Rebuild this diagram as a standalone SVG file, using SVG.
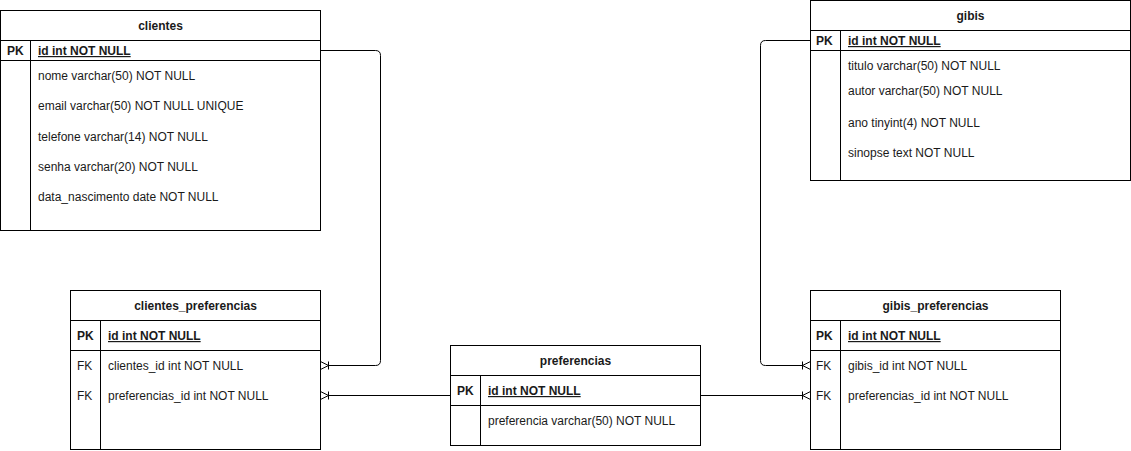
<svg xmlns="http://www.w3.org/2000/svg" width="1131" height="451" viewBox="0 0 1131 451">
<style>
.box{fill:#fff;stroke:#000;stroke-width:1}
.ln{fill:none;stroke:#000;stroke-width:1}
text{font-family:"Liberation Sans",Arial,Helvetica,sans-serif;font-size:12px;fill:#1a1a1a}
.t{font-weight:bold;text-anchor:middle}
.pk{font-weight:bold;text-decoration:underline}
.k{font-weight:bold}
</style>
<defs>
<marker id="crow" markerUnits="userSpaceOnUse" markerWidth="14" markerHeight="14" refX="0" refY="7" orient="auto" viewBox="0 0 14 14">
<path d="M0,3 L8,7 L0,11 M0,7 L8,7 M8,3 L8,11" fill="none" stroke="#000" stroke-width="1"/>
</marker>
</defs>
<rect width="1131" height="451" fill="#fff"/>
<g id="connectors">
<path class="ln" d="M320.5,50.5 H375.5 Q380.5,50.5 380.5,55.5 V360.5 Q380.5,365.5 375.5,365.5 H328.5"/>
<path class="ln" d="M450.5,395.5 H328.5"/>
<path class="ln" d="M700.5,395.5 H802.5"/>
<path class="ln" d="M810.5,40.5 H765.5 Q760.5,40.5 760.5,45.5 V360.5 Q760.5,365.5 765.5,365.5 H802.5"/>
<path class="ln" d="M320.5,361.5 L328.5,365.5 L320.5,369.5 M328.5,361.5 V369.5"/>
<path class="ln" d="M320.5,391.5 L328.5,395.5 L320.5,399.5 M328.5,391.5 V399.5"/>
<path class="ln" d="M810.5,361.5 L802.5,365.5 L810.5,369.5 M802.5,361.5 V369.5"/>
<path class="ln" d="M810.5,391.5 L802.5,395.5 L810.5,399.5 M802.5,391.5 V399.5"/>
</g>
<g id="clientes">
<rect class="box" x="0.5" y="10.5" width="320" height="220"/>
<path class="ln" d="M0.5,40.5 H320.5 M0.5,60.5 H320.5 M30.5,40.5 V230.5"/>
<text class="t" x="160.5" y="30">clientes</text>
<text class="k" x="7" y="55">PK</text>
<text class="pk" x="38" y="55">id int NOT NULL</text>
<text x="38" y="80">nome varchar(50) NOT NULL</text>
<text x="38" y="110">email varchar(50) NOT NULL UNIQUE</text>
<text x="38" y="141">telefone varchar(14) NOT NULL</text>
<text x="38" y="171">senha varchar(20) NOT NULL</text>
<text x="38" y="201">data_nascimento date NOT NULL</text>
</g>
<g id="clientes_preferencias">
<rect class="box" x="70.5" y="290.5" width="250" height="159"/>
<path class="ln" d="M70.5,320.5 H320.5 M70.5,350.5 H320.5 M100.5,320.5 V449.5"/>
<text class="t" x="195.5" y="310">clientes_preferencias</text>
<text class="k" x="77" y="340">PK</text>
<text class="pk" x="108" y="340">id int NOT NULL</text>
<text x="77" y="370">FK</text>
<text x="108" y="370">clientes_id int NOT NULL</text>
<text x="77" y="400">FK</text>
<text x="108" y="400">preferencias_id int NOT NULL</text>
</g>
<g id="preferencias">
<rect class="box" x="450.5" y="345.5" width="250" height="100"/>
<path class="ln" d="M450.5,375.5 H700.5 M450.5,405.5 H700.5 M480.5,375.5 V445.5"/>
<text class="t" x="575.5" y="365">preferencias</text>
<text class="k" x="457" y="395">PK</text>
<text class="pk" x="488" y="395">id int NOT NULL</text>
<text x="488" y="425">preferencia varchar(50) NOT NULL</text>
</g>
<g id="gibis">
<rect class="box" x="810.5" y="0.5" width="320" height="180"/>
<path class="ln" d="M810.5,30.5 H1130.5 M810.5,50.5 H1130.5 M840.5,30.5 V180.5"/>
<text class="t" x="970.5" y="20">gibis</text>
<text class="k" x="816" y="45">PK</text>
<text class="pk" x="848" y="45">id int NOT NULL</text>
<text x="848" y="70">titulo varchar(50) NOT NULL</text>
<text x="848" y="95">autor varchar(50) NOT NULL</text>
<text x="848" y="127">ano tinyint(4) NOT NULL</text>
<text x="848" y="157">sinopse text NOT NULL</text>
</g>
<g id="gibis_preferencias">
<rect class="box" x="810.5" y="290.5" width="250" height="159"/>
<path class="ln" d="M810.5,320.5 H1060.5 M810.5,350.5 H1060.5 M840.5,320.5 V449.5"/>
<text class="t" x="935.5" y="310">gibis_preferencias</text>
<text class="k" x="816" y="340">PK</text>
<text class="pk" x="848" y="340">id int NOT NULL</text>
<text x="816" y="370">FK</text>
<text x="848" y="370">gibis_id int NOT NULL</text>
<text x="816" y="400">FK</text>
<text x="848" y="400">preferencias_id int NOT NULL</text>
</g>
</svg>
